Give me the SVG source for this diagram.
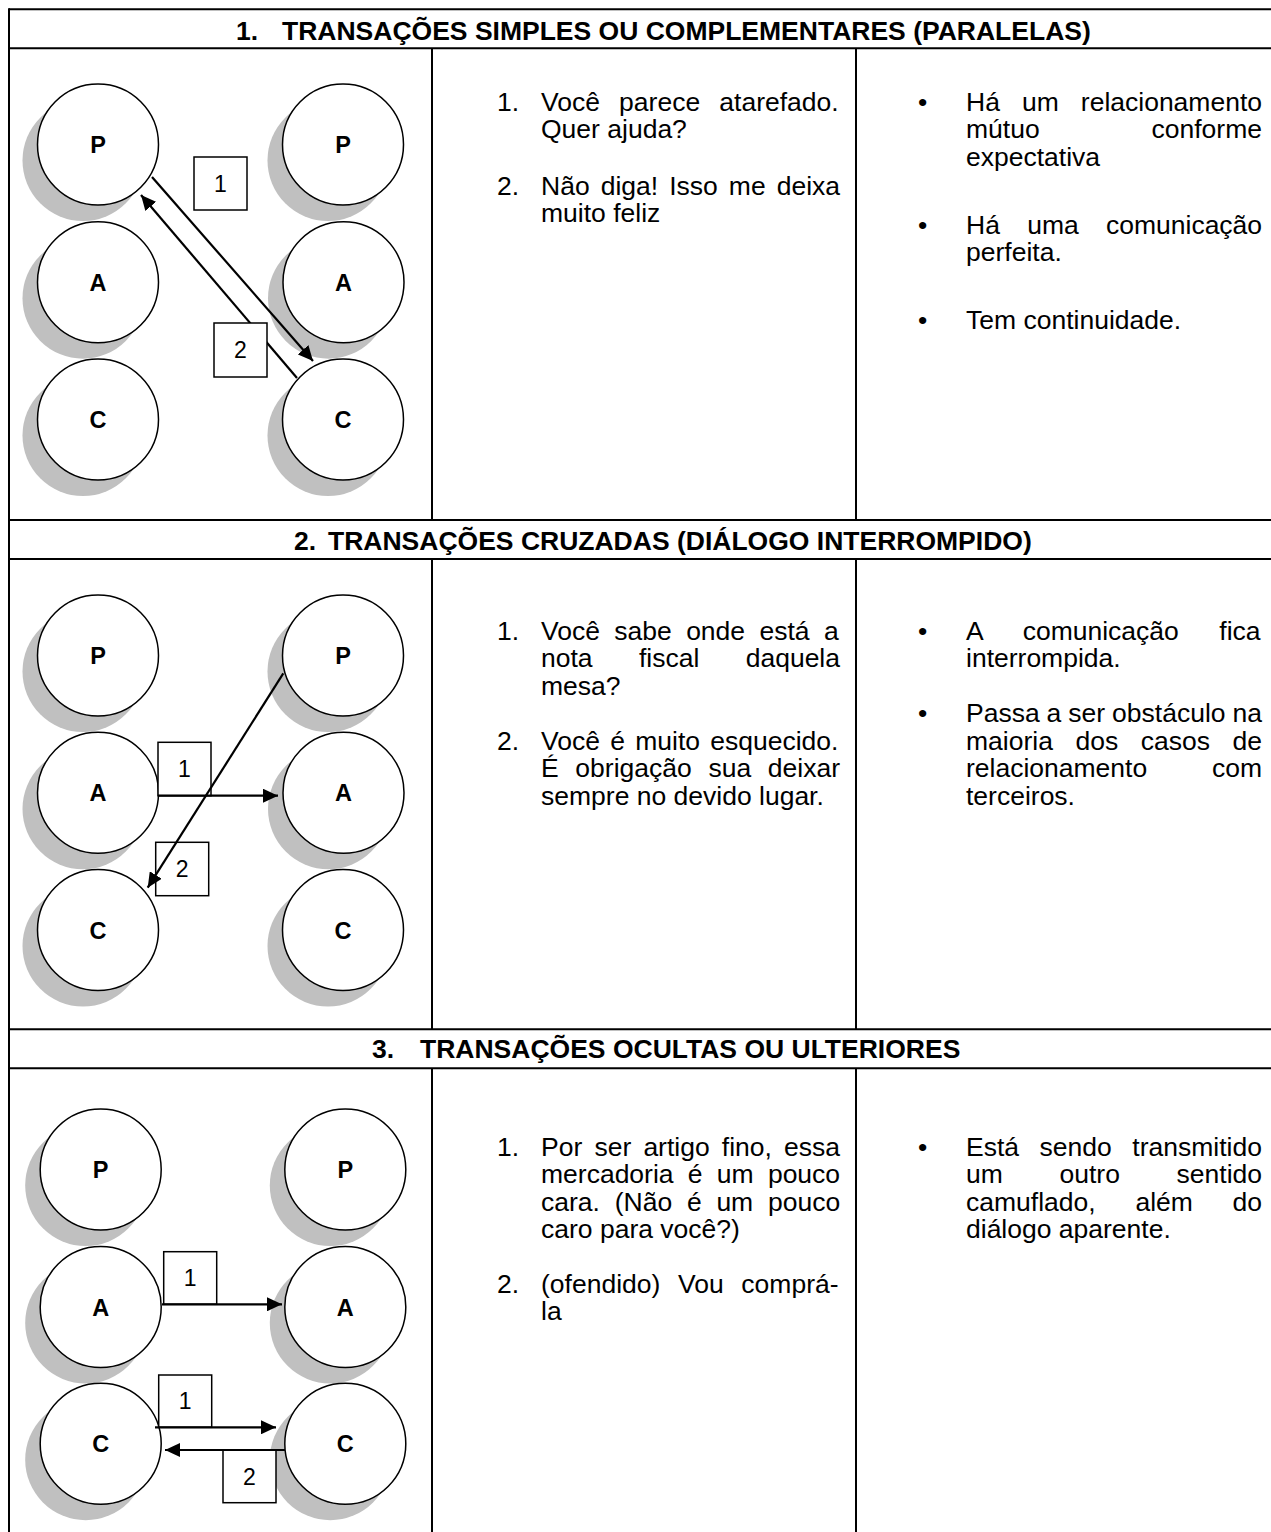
<svg xmlns="http://www.w3.org/2000/svg" width="1271" height="1532" viewBox="0 0 1271 1532">
  <style>
    .grid { stroke: #000; stroke-width: 2; fill: none; }
    .title { font-family: "Liberation Sans", Arial, sans-serif; font-size: 26.5px; font-weight: bold; fill: #000; }
    .body { font-family: "Liberation Sans", Arial, sans-serif; font-size: 26.5px; fill: #000; }
    .ego { fill: #fff; stroke: #000; stroke-width: 1.5; }
    .shadow { fill: #c0c0c0; }
    .lbl { font-family: "Liberation Sans", Arial, sans-serif; font-size: 23.5px; font-weight: bold; text-anchor: middle; fill: #000; }
    .box { fill: #fff; stroke: #000; stroke-width: 1.5; }
    .num { font-family: "Liberation Sans", Arial, sans-serif; font-size: 23px; text-anchor: middle; fill: #000; }
    .arrow { stroke: #000; stroke-width: 2.2; fill: none; marker-end: url(#head); }
  </style>
  <defs>
    <marker id="head" markerUnits="userSpaceOnUse" markerWidth="16" markerHeight="14" refX="15" refY="7" orient="auto">
      <path d="M0,0 L15,7 L0,14 Z" fill="#000"/>
    </marker>
    <g id="egoP">
      <circle class="shadow" cx="-15" cy="16" r="60.5"/>
      <circle class="ego" cx="0" cy="0" r="60.5"/>
      <text class="lbl" x="0" y="8.5">P</text>
    </g>
    <g id="egoA">
      <circle class="shadow" cx="-15" cy="16" r="60.5"/>
      <circle class="ego" cx="0" cy="0" r="60.5"/>
      <text class="lbl" x="0" y="8.5">A</text>
    </g>
    <g id="egoC">
      <circle class="shadow" cx="-15" cy="16" r="60.5"/>
      <circle class="ego" cx="0" cy="0" r="60.5"/>
      <text class="lbl" x="0" y="8.5">C</text>
    </g>
  </defs>

  <rect width="1271" height="1532" fill="#fff"/>

  <!-- table rules -->
  <g id="table" class="grid">
    <line x1="9" y1="9.3" x2="1271" y2="9.3"/>
    <line x1="9" y1="48.3" x2="1271" y2="48.3"/>
    <line x1="9" y1="520" x2="1271" y2="520"/>
    <line x1="9" y1="559" x2="1271" y2="559"/>
    <line x1="9" y1="1029.3" x2="1271" y2="1029.3"/>
    <line x1="9" y1="1068.3" x2="1271" y2="1068.3"/>
    <line x1="9" y1="8.3" x2="9" y2="1532"/>
    <line x1="432" y1="48.3" x2="432" y2="520"/>
    <line x1="856" y1="48.3" x2="856" y2="520"/>
    <line x1="432" y1="559" x2="432" y2="1029.3"/>
    <line x1="856" y1="559" x2="856" y2="1029.3"/>
    <line x1="432" y1="1068.3" x2="432" y2="1532"/>
    <line x1="856" y1="1068.3" x2="856" y2="1532"/>
  </g>

  <!-- section titles -->
  <g id="titles">
    <text class="title" y="39.5"><tspan x="236">1.</tspan><tspan x="282">TRANSAÇÕES SIMPLES OU COMPLEMENTARES (PARALELAS)</tspan></text>
    <text class="title" y="549.5"><tspan x="294">2.</tspan><tspan x="328">TRANSAÇÕES CRUZADAS (DIÁLOGO INTERROMPIDO)</tspan></text>
    <text class="title" y="1058"><tspan x="372">3.</tspan><tspan x="420">TRANSAÇÕES OCULTAS OU ULTERIORES</tspan></text>
  </g>

  <!-- section 1: ego states -->
  <g id="s1-left-P"><use href="#egoP" x="98" y="144.5"/></g>
  <g id="s1-left-A"><use href="#egoA" x="98" y="282.2"/></g>
  <g id="s1-left-C"><use href="#egoC" x="98" y="419.5"/></g>
  <g id="s1-right-P"><use href="#egoP" x="343" y="144.5"/></g>
  <g id="s1-right-A"><use href="#egoA" x="343.5" y="282.2"/></g>
  <g id="s1-right-C"><use href="#egoC" x="343" y="419.5"/></g>

  <!-- section 2: ego states -->
  <g id="s2-left-P"><use href="#egoP" x="98" y="655.5"/></g>
  <g id="s2-left-A"><use href="#egoA" x="98" y="792.8"/></g>
  <g id="s2-left-C"><use href="#egoC" x="98" y="930"/></g>
  <g id="s2-right-P"><use href="#egoP" x="343" y="655.5"/></g>
  <g id="s2-right-A"><use href="#egoA" x="343.5" y="792.8"/></g>
  <g id="s2-right-C"><use href="#egoC" x="343" y="930"/></g>

  <!-- section 3: ego states -->
  <g id="s3-left-P"><use href="#egoP" x="100.7" y="1169.5"/></g>
  <g id="s3-left-A"><use href="#egoA" x="100.7" y="1307"/></g>
  <g id="s3-left-C"><use href="#egoC" x="100.7" y="1443.7"/></g>
  <g id="s3-right-P"><use href="#egoP" x="345.3" y="1169.5"/></g>
  <g id="s3-right-A"><use href="#egoA" x="345.3" y="1307"/></g>
  <g id="s3-right-C"><use href="#egoC" x="345.3" y="1443.7"/></g>

  <!-- transaction arrows and their numbered tags -->
  <g id="connectors">
    <!-- section 1 -->
    <line class="arrow" x1="152" y1="177" x2="313" y2="361"/>
    <line class="arrow" x1="297" y1="378" x2="141" y2="195"/>
    <rect class="box" x="194" y="157" width="53" height="53"/>
    <text class="num" x="220.5" y="192">1</text>
    <rect class="box" x="214" y="323" width="53" height="54"/>
    <text class="num" x="240.5" y="358">2</text>

    <!-- section 2 -->
    <rect class="box" x="158" y="742.3" width="53" height="53.4"/>
    <text class="num" x="184.5" y="777">1</text>
    <line class="arrow" x1="158" y1="795.7" x2="278" y2="795.7"/>
    <rect class="box" x="155.7" y="842.3" width="53" height="53.4"/>
    <text class="num" x="182.2" y="877">2</text>
    <line class="arrow" x1="283.3" y1="673.3" x2="147.7" y2="887.7"/>

    <!-- section 3 -->
    <rect class="box" x="163.7" y="1251.7" width="53" height="52.6"/>
    <text class="num" x="190.2" y="1286">1</text>
    <line class="arrow" x1="162" y1="1304.3" x2="282" y2="1304.3"/>
    <rect class="box" x="158.7" y="1375" width="53" height="52.3"/>
    <text class="num" x="185.2" y="1409">1</text>
    <line class="arrow" x1="155" y1="1427.3" x2="276" y2="1427.3"/>
    <rect class="box" x="223" y="1450" width="53" height="52.7"/>
    <text class="num" x="249.5" y="1485">2</text>
    <line class="arrow" x1="285" y1="1450" x2="165" y2="1450"/>
  </g>

  <!-- section 1: dialogue and notes -->
  <g id="s1-dialogue" class="body">
    <text x="497" y="110.5">1.</text>
    <text x="541" y="110.5" word-spacing="11.8">Você parece atarefado.</text>
    <text x="541" y="138">Quer ajuda?</text>
    <text x="497" y="194.5">2.</text>
    <text x="541" y="194.5" word-spacing="3.7">Não diga! Isso me deixa</text>
    <text x="541" y="222">muito feliz</text>
  </g>
  <g id="s1-notes" class="body">
    <text x="918" y="110.5">•</text>
    <text x="966" y="110.5" word-spacing="14.7">Há um relacionamento</text>
    <text x="966" y="138" word-spacing="104.5">mútuo conforme</text>
    <text x="966" y="165.5">expectativa</text>
    <text x="918" y="233.5">•</text>
    <text x="966" y="233.5" word-spacing="19.9">Há uma comunicação</text>
    <text x="966" y="261">perfeita.</text>
    <text x="918" y="328.5">•</text>
    <text x="966" y="328.5">Tem continuidade.</text>
  </g>

  <!-- section 2: dialogue and notes -->
  <g id="s2-dialogue" class="body">
    <text x="497" y="639.5">1.</text>
    <text x="541" y="639.5" word-spacing="7">Você sabe onde está a</text>
    <text x="541" y="667" word-spacing="39">nota fiscal daquela</text>
    <text x="541" y="694.5">mesa?</text>
    <text x="497" y="749.5">2.</text>
    <text x="541" y="749.5" word-spacing="2.9">Você é muito esquecido.</text>
    <text x="541" y="777" word-spacing="9.3">É obrigação sua deixar</text>
    <text x="541" y="804.5">sempre no devido lugar.</text>
  </g>
  <g id="s2-notes" class="body">
    <text x="918" y="639.5">•</text>
    <text x="966" y="639.5" word-spacing="33.1">A comunicação fica</text>
    <text x="966" y="667">interrompida.</text>
    <text x="918" y="721.5">•</text>
    <text x="966" y="721.5" word-spacing="-0.4">Passa a ser obstáculo na</text>
    <text x="966" y="749.5" word-spacing="15.2">maioria dos casos de</text>
    <text x="966" y="777" word-spacing="57.4">relacionamento com</text>
    <text x="966" y="804.5">terceiros.</text>
  </g>

  <!-- section 3: dialogue and notes -->
  <g id="s3-dialogue" class="body">
    <text x="497" y="1155.5">1.</text>
    <text x="541" y="1155.5" word-spacing="4.8">Por ser artigo fino, essa</text>
    <text x="541" y="1183" word-spacing="6.9">mercadoria é um pouco</text>
    <text x="541" y="1210.5" word-spacing="7.4">cara. (Não é um pouco</text>
    <text x="541" y="1238">caro para você?)</text>
    <text x="497" y="1292.5">2.</text>
    <text x="541" y="1292.5" word-spacing="10.3">(ofendido) Vou comprá-</text>
    <text x="541" y="1320">la</text>
  </g>
  <g id="s3-notes" class="body">
    <text x="918" y="1155.5">•</text>
    <text x="966" y="1155.5" word-spacing="13.2">Está sendo transmitido</text>
    <text x="966" y="1183" word-spacing="49.3">um outro sentido</text>
    <text x="966" y="1210.5" word-spacing="32.4">camuflado, além do</text>
    <text x="966" y="1238">diálogo aparente.</text>
  </g>
</svg>
